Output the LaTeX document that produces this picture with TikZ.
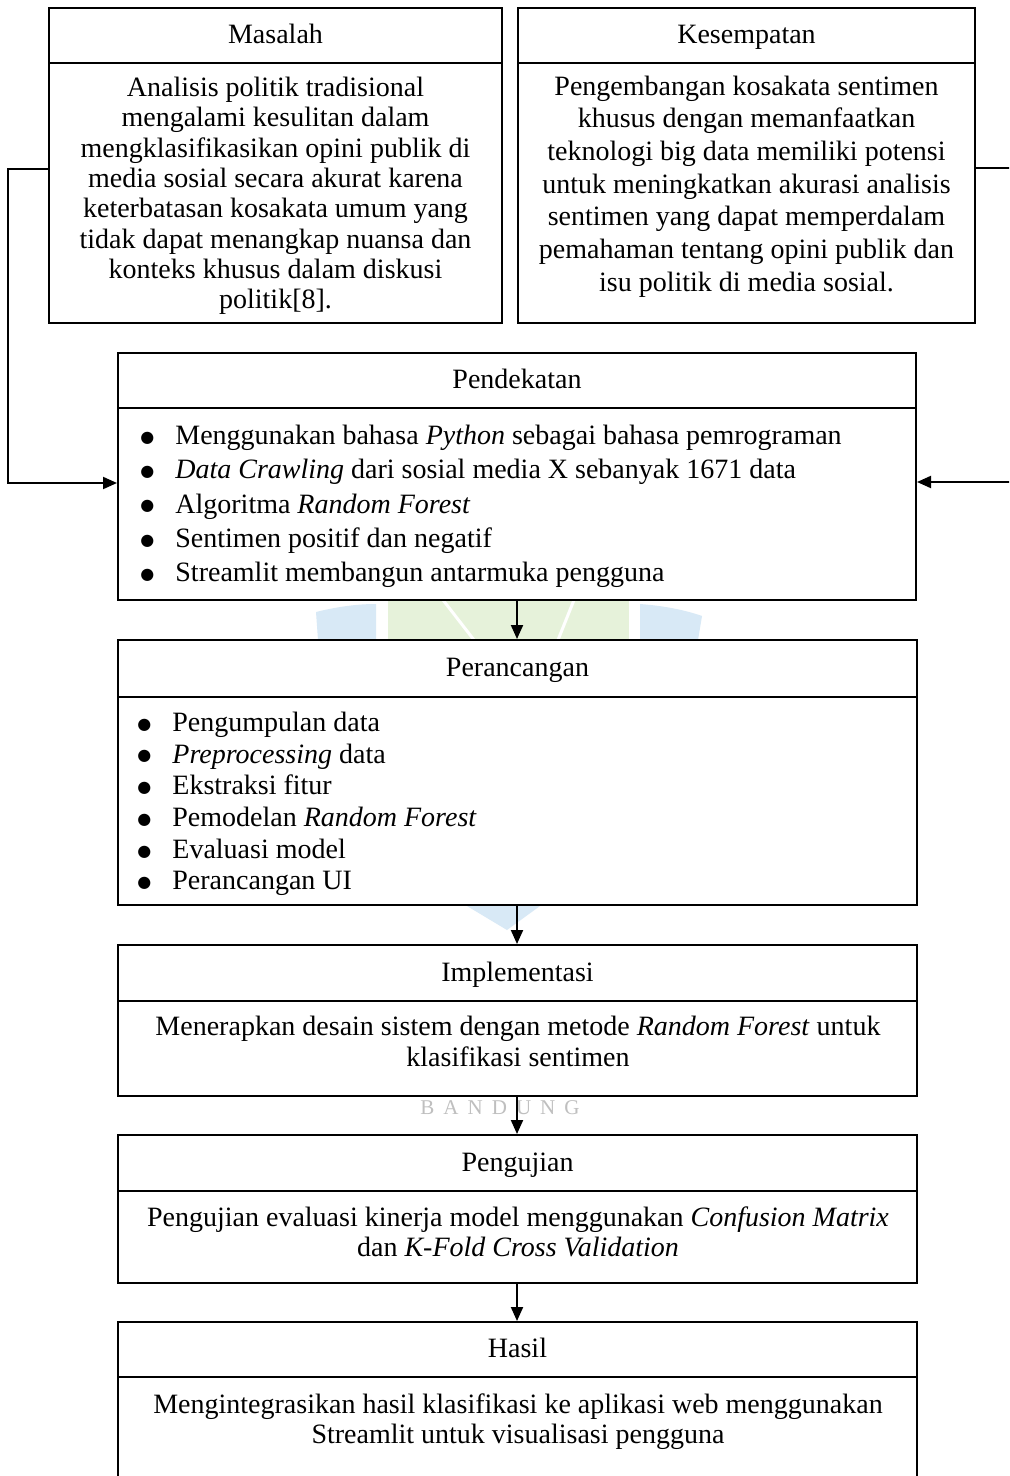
\documentclass[tikz,border=0pt]{standalone}
\usepackage{fontspec}
\setmainfont{Liberation Serif}
\newfontfamily\bulletfont{DejaVu Sans}
\usetikzlibrary{arrows.meta,fit}
\definecolor{wmblue}{HTML}{D8E9F6}
\definecolor{wmgreen}{HTML}{E6F2DA}
\newcommand\bl{\makebox[17.5pt][l]{\raisebox{1.1pt}{\fontsize{8pt}{8pt}\bulletfont ●}}}
\begin{document}
\begin{tikzpicture}[x=0.5pt,y=-0.5pt,
  box/.style={draw=black,line width=1pt,fill=white,inner sep=0pt},
  hdr/.style={font=\fontsize{14pt}{16pt}\selectfont,anchor=base,inner sep=0pt},
  body/.style={align=center,inner sep=0pt,font=\fontsize{14pt}{#1}\selectfont},
  blist/.style={align=left,inner sep=0pt,anchor=west,font=\fontsize{14pt}{#1}\selectfont},
  link/.style={line width=1pt},
  arr/.style={line width=1pt,-{Triangle[width=6pt,length=7pt]}},
]
\useasboundingbox (0,0) rectangle (1009,1476);
\clip (0,0) rectangle (1009,1476);
\fill[white] (0,0) rectangle (1009,1476);

% faint watermark
\fill[wmblue] (316,612) .. controls (340,606) and (360,604) .. (376,604) -- (376,640) -- (318,640) -- cycle;
\fill[wmgreen] (388,600) rectangle (629,640);
\draw[white,line width=1.5pt] (443,600) -- (474,640);
\draw[white,line width=1.5pt] (574,600) -- (558,640);
\fill[wmblue] (640,604) .. controls (665,606) and (685,610) .. (702,616) -- (698,640) -- (640,640) -- cycle;
\fill[wmblue] (467,906) -- (540,906) -- (507,930) -- cycle;
\node[text=black!25,inner sep=0pt,font=\fontsize{10.5pt}{12pt}\selectfont\addfontfeature{LetterSpace=18}] (wm) at (500,1108) {B A N D U N G};

% Masalah
\node[box,fit={(49,8) (502,323)}] (mas) {};
\draw[link] (mas.west |- 0,63) -- (mas.east |- 0,63);
\node[hdr] (masH) at (275.5,43.3) {Masalah};
\node[body=15.15pt] (masB) at (275.5,196) {Analisis politik tradisional\\
mengalami kesulitan dalam\\
mengklasifikasikan opini publik di\\
media sosial secara akurat karena\\
keterbatasan kosakata umum yang\\
tidak dapat menangkap nuansa dan\\
konteks khusus dalam diskusi\\
politik[8].};

% Kesempatan
\node[box,fit={(518,8) (975,323)}] (kes) {};
\draw[link] (kes.west |- 0,63) -- (kes.east |- 0,63);
\node[hdr] (kesH) at (746.5,43.3) {Kesempatan};
\node[body=16.35pt] (kesB) at (746.5,186.5) {Pengembangan kosakata sentimen\\
khusus dengan memanfaatkan\\
teknologi big data memiliki potensi\\
untuk meningkatkan akurasi analisis\\
sentimen yang dapat memperdalam\\
pemahaman tentang opini publik dan\\
isu politik di media sosial.};

% Pendekatan
\node[box,fit={(118,353) (916,600)}] (pend) {};
\draw[link] (pend.west |- 0,408) -- (pend.east |- 0,408);
\node[hdr] (pendH) at (517,388) {Pendekatan};
\node[blist=17.1pt] (pendB) at (140,506.5) {\bl Menggunakan bahasa \textit{Python} sebagai bahasa pemrograman\\
\bl\textit{Data Crawling} dari sosial media X sebanyak 1671 data\\
\bl Algoritma \textit{Random Forest}\\
\bl Sentimen positif dan negatif\\
\bl Streamlit membangun antarmuka pengguna};

% Perancangan
\node[box,fit={(118,640) (917,905)}] (peran) {};
\draw[link] (peran.west |- 0,697) -- (peran.east |- 0,697);
\node[hdr] (peranH) at (517.5,676.5) {Perancangan};
\node[blist=15.85pt] (peranB) at (137,804) {\bl Pengumpulan data\\
\bl\textit{Preprocessing} data\\
\bl Ekstraksi fitur\\
\bl Pemodelan \textit{Random Forest}\\
\bl Evaluasi model\\
\bl Perancangan UI};

% Implementasi
\node[box,fit={(118,945) (917,1096)}] (impl) {};
\draw[link] (impl.west |- 0,1001) -- (impl.east |- 0,1001);
\node[hdr] (implH) at (517.5,981) {Implementasi};
\node[body=15.5pt] (implB) at (518,1044) {Menerapkan desain sistem dengan metode \textit{Random Forest} untuk\\
klasifikasi sentimen\vphantom{g}};

% Pengujian
\node[box,fit={(118,1135) (917,1283)}] (uji) {};
\draw[link] (uji.west |- 0,1191) -- (uji.east |- 0,1191);
\node[hdr] (ujiH) at (517.5,1171) {Pengujian};
\node[body=15pt] (ujiB) at (518,1235) {Pengujian evaluasi kinerja model menggunakan \textit{Confusion Matrix}\\
dan \textit{K-Fold Cross Validation}\vphantom{g}};

% Hasil
\node[box,fit={(118,1322) (917,1530)}] (has) {};
\draw[link] (has.west |- 0,1377) -- (has.east |- 0,1377);
\node[hdr] (hasH) at (517.5,1357.5) {Hasil};
\node[body=15pt] (hasB) at (518,1422) {Mengintegrasikan hasil klasifikasi ke aplikasi web menggunakan\\
Streamlit untuk visualisasi pengguna};

% connectors
\draw[arr] (mas.west |- 0,169) -- ++(-40,0) |- (pend.west |- 0,483);
\draw[arr] (kes.east |- 0,168) -- ++(37,0) |- (pend.east |- 0,482);
\draw[arr] (pend.south) -- (peran.north -| pend.south);
\draw[arr] (peran.south -| pend.south) -- (impl.north -| pend.south);
\draw[arr] (impl.south -| pend.south) -- (uji.north -| pend.south);
\draw[arr] (uji.south -| pend.south) -- (has.north -| pend.south);
\end{tikzpicture}
\end{document}
